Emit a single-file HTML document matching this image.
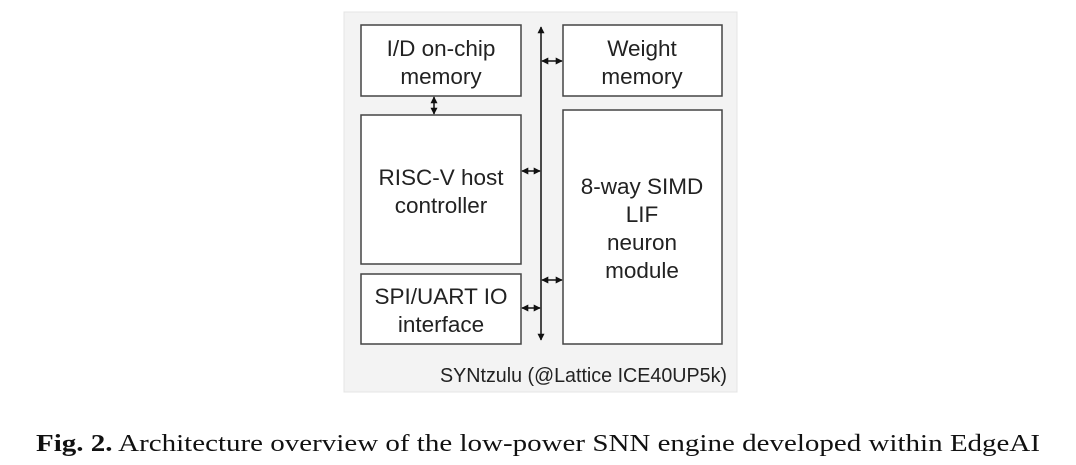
<!DOCTYPE html>
<html><head><style>
html,body{margin:0;padding:0;background:#fff;width:1076px;height:465px;overflow:hidden}
</style></head><body>
<svg width="1076" height="465" viewBox="0 0 1076 465" xmlns="http://www.w3.org/2000/svg">
<defs>
<marker id="a" viewBox="0 0 10 10" refX="9" refY="5" markerWidth="7" markerHeight="7" orient="auto-start-reverse" markerUnits="userSpaceOnUse"><path d="M0,0L10,5L0,10z" fill="#111"/></marker>
</defs>
<rect x="344" y="12" width="393" height="380" fill="#f3f3f3" stroke="#e4e4e4"/>
<g fill="#fff" stroke="#444" stroke-width="1.5">
<rect x="361" y="25" width="160" height="71"/>
<rect x="563" y="25" width="159" height="71"/>
<rect x="361" y="115" width="160" height="149"/>
<rect x="563" y="110" width="159" height="234"/>
<rect x="361" y="274" width="160" height="70"/>
</g>
<g stroke="#111" stroke-width="1.5" fill="none">
<line x1="541" y1="27" x2="541" y2="340" marker-start="url(#a)" marker-end="url(#a)"/>
<line x1="542" y1="61" x2="562" y2="61" marker-start="url(#a)" marker-end="url(#a)"/>
<line x1="522" y1="171" x2="540" y2="171" marker-start="url(#a)" marker-end="url(#a)"/>
<line x1="542" y1="280" x2="562" y2="280" marker-start="url(#a)" marker-end="url(#a)"/>
<line x1="522" y1="308" x2="540" y2="308" marker-start="url(#a)" marker-end="url(#a)"/>
<line x1="434" y1="97" x2="434" y2="114" marker-start="url(#a)" marker-end="url(#a)"/>
</g>
<g font-family="Liberation Sans, sans-serif" font-size="22.5" fill="#222" text-anchor="middle">
<text x="441" y="56">I/D on-chip</text>
<text x="441" y="84">memory</text>
<text x="642" y="56">Weight</text>
<text x="642" y="84">memory</text>
<text x="441" y="185">RISC-V host</text>
<text x="441" y="213">controller</text>
<text x="642" y="194">8-way SIMD</text>
<text x="642" y="222">LIF</text>
<text x="642" y="250">neuron</text>
<text x="642" y="278">module</text>
<text x="441" y="304">SPI/UART IO</text>
<text x="441" y="332">interface</text>
<text x="727" y="382" text-anchor="end" font-size="20" textLength="287" lengthAdjust="spacingAndGlyphs">SYNtzulu (@Lattice ICE40UP5k)</text>
</g>
<text x="36" y="451" font-family="Liberation Serif, serif" font-size="24" fill="#111" textLength="1004" lengthAdjust="spacingAndGlyphs"><tspan font-weight="bold">Fig. 2.</tspan> Architecture overview of the low-power SNN engine developed within EdgeAI</text>
</svg>
</body></html>
